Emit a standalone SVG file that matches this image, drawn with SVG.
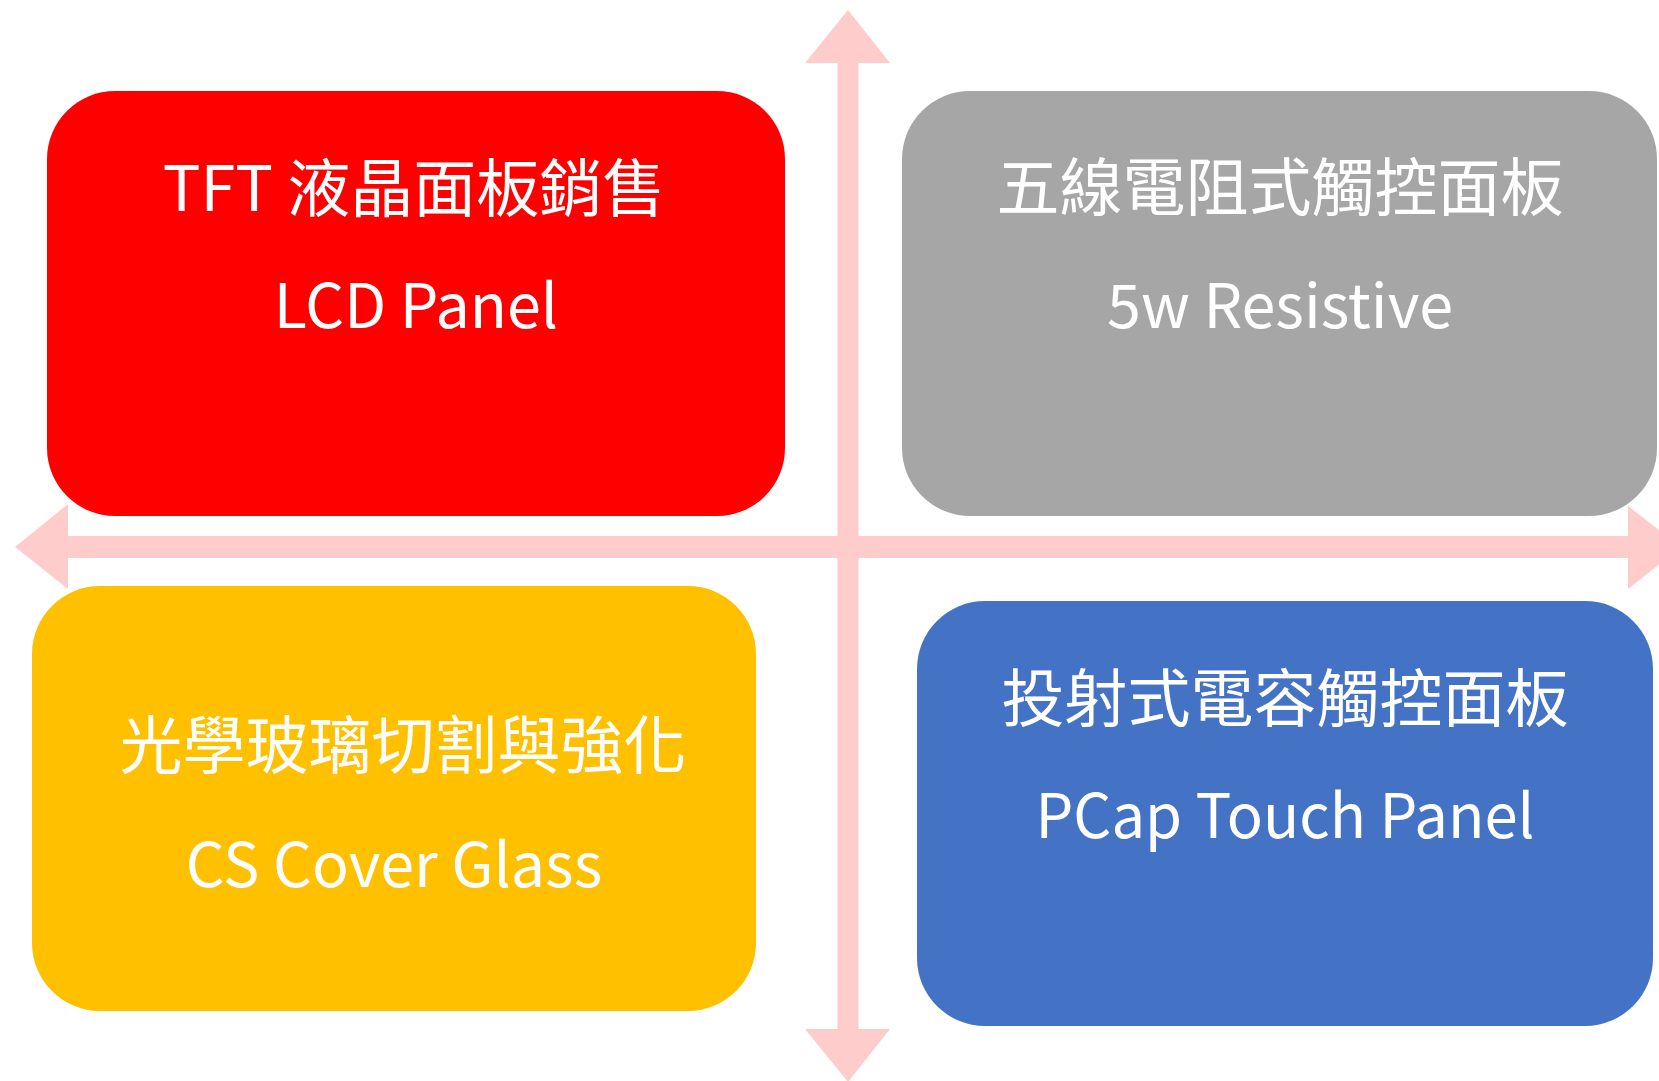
<svg xmlns="http://www.w3.org/2000/svg" width="1659" height="1081" viewBox="0 0 1659 1081">
<style>
.ax{fill:#FFCCCC}
.t{fill:#FFFFFF;font-family:"Noto Sans CJK TC","Noto Sans CJK SC","Noto Sans",sans-serif;font-size:63px;text-anchor:middle}
.l{font-size:61px}
</style>
<rect width="1659" height="1081" fill="#FFFFFF"/>
<g id="axes">
<polygon class="ax" points="15,547 68,504 68,536 1628,536 1628,506 1681,547 1628,589 1628,558 68,558 68,589"/>
<polygon class="ax" points="848,10 890,63 858.5,63 858.5,1029 890,1029 848,1082 805,1029 837.5,1029 837.5,63 805,63"/>
</g>
<g id="lcd">
<rect x="47" y="91" width="738" height="425" rx="68" ry="68" fill="#FF0000"/>
<text class="t" x="414" y="211">TFT 液晶面板銷售</text>
<text class="t l" x="416" y="328">LCD Panel</text>
</g>
<g id="resistive">
<rect x="902" y="91" width="755" height="425" rx="68" ry="68" fill="#A6A6A6"/>
<text class="t" x="1280" y="210">五線電阻式觸控面板</text>
<text class="t l" x="1280" y="328">5w Resistive</text>
</g>
<g id="cover">
<rect x="32" y="586" width="724" height="425" rx="68" ry="68" fill="#FFC000"/>
<text class="t" x="403" y="768">光學玻璃切割與強化</text>
<text class="t l" x="394" y="887">CS Cover Glass</text>
</g>
<g id="pcap">
<rect x="917" y="601" width="736" height="425" rx="68" ry="68" fill="#4472C4"/>
<text class="t" x="1285" y="721">投射式電容觸控面板</text>
<text class="t l" x="1285" y="838" textLength="499" lengthAdjust="spacingAndGlyphs">PCap Touch Panel</text>
</g>
</svg>
